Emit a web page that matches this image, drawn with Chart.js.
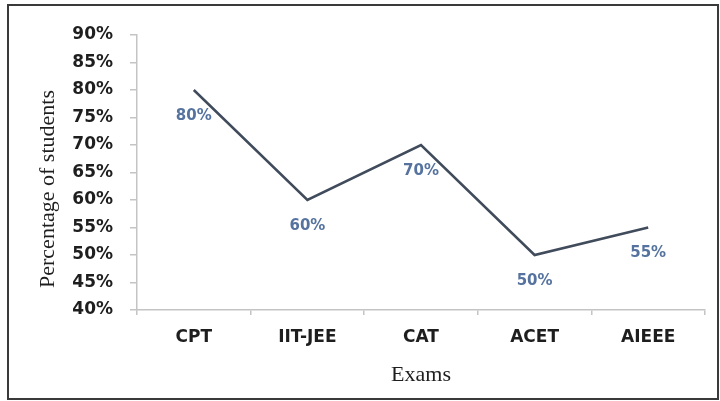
<!DOCTYPE html>
<html>
<head>
<meta charset="utf-8">
<script src="https://cdn.jsdelivr.net/npm/chart.js@4"></script>
<style>
  html, body { margin: 0; padding: 0; background: #fff; }
  #frame {
    position: absolute; left: 7px; top: 4px;
    width: 712px; height: 396px;
    box-sizing: border-box;
    border: 2px solid #3a3a3a;
    background: #fff;
  }
  #chart { display: block; }
</style>
</head>
<body>
<div id="frame"><canvas id="chart" width="708" height="392"></canvas></div>
<script>
// chart data
const exams = ['CPT', 'IIT-JEE', 'CAT', 'ACET', 'AIEEE'];
const percentStudents = [80, 60, 70, 50, 55];
const yTicks = [40, 45, 50, 55, 60, 65, 70, 75, 80, 85, 90];

const axisGrey = '#c4c4c4';
const tickFont = { family: '"DejaVu Sans", sans-serif', size: 17, weight: 'bold' };
const titleFont = { family: '"Liberation Serif", "Times New Roman", serif', size: 22 };

// value labels under each point
const pointLabels = {
  id: 'pointLabels',
  afterDatasetsDraw(chart) {
    const ctx = chart.ctx;
    const meta = chart.getDatasetMeta(0);
    ctx.save();
    ctx.font = 'bold 15px "DejaVu Sans", sans-serif';
    ctx.fillStyle = '#56739f';
    ctx.textAlign = 'center';
    ctx.textBaseline = 'middle';
    meta.data.forEach((pt, i) => {
      ctx.fillText(percentStudents[i] + '%', pt.x, pt.y + 26);
    });
    ctx.restore();
  }
};

new Chart(document.getElementById('chart'), {
  type: 'line',
  data: {
    labels: exams,
    datasets: [{
      label: 'Percentage of students',
      data: percentStudents,
      borderColor: '#404b5c',
      borderWidth: 2.5,
      pointRadius: 0,
      tension: 0,
      fill: false,
    }],
  },
  options: {
    responsive: false,
    animation: false,
    layout: { padding: { top: 29, right: 12, left: 0, bottom: 0 } },
    plugins: {
      legend: { display: false },
      tooltip: { enabled: false },
    },
    scales: {
      x: {
        offset: true,
        grid: { display: true, offset: true, drawOnChartArea: false, tickLength: 5, color: axisGrey, lineWidth: 1.5 },
        border: { color: axisGrey, width: 1.5 },
        ticks: { color: '#1e1e1e', font: tickFont, padding: 12, maxRotation: 0 },
        title: { display: true, text: 'Exams', color: '#1e1e1e', font: titleFont, padding: { top: 0, bottom: 10 } },
        afterFit(scale) { scale.height = 88; },
      },
      y: {
        min: yTicks[0],
        max: yTicks[yTicks.length - 1],
        afterBuildTicks(scale) { scale.ticks = yTicks.map(v => ({ value: v })); },
        grid: { display: true, drawOnChartArea: false, tickLength: 7, color: axisGrey, lineWidth: 1.5 },
        border: { color: axisGrey, width: 1.5 },
        ticks: { color: '#1e1e1e', font: tickFont, padding: 17, callback: v => v + '%' },
        title: { display: true, text: 'Percentage of students      ', color: '#1e1e1e', font: titleFont, padding: { top: 26, bottom: 0 } },
        afterFit(scale) { scale.width = 128; },
      },
    },
  },
  plugins: [pointLabels],
});
</script>
</body>
</html>
